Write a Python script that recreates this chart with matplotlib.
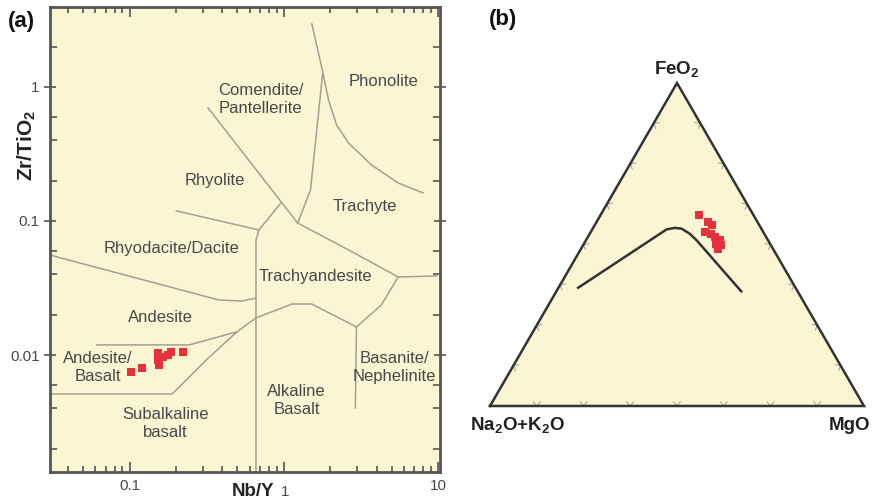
import numpy as np
import matplotlib.pyplot as plt
from matplotlib.ticker import LogLocator, NullFormatter

plt.rcParams['font.family'] = ['Liberation Sans', 'DejaVu Sans']
plt.rcParams['mathtext.fontset'] = 'custom'
plt.rcParams['mathtext.rm'] = 'Liberation Sans'
plt.rcParams['mathtext.bf'] = 'Liberation Sans:bold'

BG = '#faf6d4'
FIELD = '#a3a092'
TXT = '#484848'
RED = '#e8303a'

# ---- (a) Nb/Y vs Zr/TiO2 samples
nb_y = [0.1025, 0.121, 0.152, 0.152, 0.1545, 0.164, 0.177, 0.186, 0.221]
zr_ti = [0.0075, 0.0080, 0.0103, 0.0092, 0.0084, 0.0097, 0.0100, 0.0106, 0.0106]

# field boundaries (Nb/Y, Zr/TiO2)
bounds = [
    ([1.52, 1.79, 1.49, 1.23], [2.95, 1.29, 0.170, 0.0966]),
    ([1.79, 1.95, 2.20, 2.63, 3.70, 5.52, 8.0], [1.29, 0.80, 0.52, 0.382, 0.262, 0.192, 0.162]),
    ([0.323, 1.23, 2.63, 5.52, 9.8], [0.697, 0.0966, 0.0608, 0.0382, 0.0389]),
    ([0.201, 0.690, 0.956], [0.119, 0.0857, 0.136]),
    ([0.690, 0.66, 0.66], [0.0857, 0.0721, 0.00134]),
    ([0.0305, 0.381, 0.536, 0.66], [0.0557, 0.0257, 0.0253, 0.0266]),
    ([0.66, 1.13, 1.52, 2.96, 4.29, 5.52], [0.0189, 0.0240, 0.0240, 0.0162, 0.0236, 0.0382]),
    ([0.0612, 0.244, 0.497, 0.66], [0.0119, 0.0119, 0.0149, 0.0189]),
    ([0.0305, 0.189, 0.314, 0.497], [0.00512, 0.00512, 0.00918, 0.0149]),
    ([2.96, 2.91], [0.0162, 0.00402]),
]

fields = [
    ('Comendite/\nPantellerite', 0.711, 0.80),
    ('Phonolite', 4.42, 1.09),
    ('Rhyolite', 0.359, 0.202),
    ('Trachyte', 3.33, 0.129),
    ('Rhyodacite/Dacite', 0.187, 0.0618),
    ('Trachyandesite', 1.61, 0.0382),
    ('Andesite', 0.158, 0.0192),
    ('Andesite/\nBasalt', 0.0622, 0.0080),
    ('Basanite/\nNephelinite', 5.2, 0.0080),
    ('Alkaline\nBasalt', 1.21, 0.00454),
    ('Subalkaline\nbasalt', 0.171, 0.00306),
]

# ---- (b) ternary, percent (Na2O+K2O, FeO2, MgO)
alk = [14.7, 13.3, 12.7, 15.4, 14.3, 13.6, 12.9, 14.4, 13.3, 14.7]
feo = [59.0, 56.9, 55.9, 54.0, 53.3, 52.3, 51.3, 50.2, 49.7, 48.7]
mgo = [26.3, 29.8, 31.4, 30.6, 32.4, 34.1, 35.8, 35.4, 37.0, 36.6]

curve_alk = [58.5, 25.4, 23.0, 21.3, 19.9, 19.1, 15.0]
curve_feo = [36.4, 54.7, 55.2, 54.9, 53.3, 51.3, 35.2]
curve_mgo = [5.1, 19.9, 21.9, 23.8, 26.8, 29.6, 49.8]


def tern(a, f, m):
    a, f, m = np.asarray(a, float), np.asarray(f, float), np.asarray(m, float)
    s = a + f + m
    return (m + f / 2) / s, (f / s) * np.sqrt(3) / 2


fig = plt.figure(figsize=(8.77, 5.03), dpi=100)

ax = fig.add_axes([50 / 877, 31 / 503, 390 / 877, 465 / 503])
ax.set_facecolor(BG)
ax.set_xscale('log')
ax.set_yscale('log')
ax.set_xlim(0.0305, 10.3)
ax.set_ylim(0.00134, 3.95)

for xs, ys in bounds:
    ax.plot(xs, ys, color=FIELD, lw=1.1, zorder=2)
for name, x, y in fields:
    ax.text(x, y, name, ha='center', va='center', fontsize=12, color=TXT,
            linespacing=1.25, zorder=3)
ax.scatter(nb_y, zr_ti, marker='s', s=38, color=RED, lw=0, zorder=4)

for sp in ax.spines.values():
    sp.set_color('#555555')
    sp.set_linewidth(2)

ax.set_xticks([0.1, 1, 10], ['0.1', '', '10'])
ax.set_yticks([0.01, 0.1, 1], ['0.01', '0.1', '1'])
ax.xaxis.set_minor_locator(LogLocator(base=10, subs=np.arange(2, 10)))
ax.yaxis.set_minor_locator(LogLocator(base=10, subs=(2, 4, 6)))
ax.xaxis.set_minor_formatter(NullFormatter())
ax.yaxis.set_minor_formatter(NullFormatter())
ax.tick_params(which='both', top=True, right=True, color='#555555',
               labelsize=11, labelcolor=TXT, width=1.2)
ax.tick_params(axis='x', which='major', direction='in', length=7, pad=5)
ax.tick_params(axis='x', which='minor', direction='in', length=4)
ax.tick_params(axis='y', which='major', direction='inout', length=9, pad=3)
ax.tick_params(axis='y', which='minor', direction='in', length=5)
# the "1" sits lower, beside the axis title
fig.text(285 / 877, 1 - 492 / 503, '1', ha='center', va='center',
         fontsize=11, color=TXT)

fig.text(253 / 877, 1 - 492 / 503, 'Nb/Y', ha='center', va='center',
         fontsize=13.5, fontweight='bold', color='#222222')
fig.text(27 / 877, 1 - 145 / 503, r'Zr/TiO$_\mathbf{2}$', rotation=90,
         ha='center', va='center', fontsize=15, fontweight='bold', color='#222222')
fig.text(21 / 877, 1 - 22 / 503, '(a)', ha='center', va='center',
         fontsize=16, fontweight='bold', color='#111111')
fig.text(503 / 877, 1 - 20 / 503, '(b)', ha='center', va='center',
         fontsize=16, fontweight='bold', color='#111111')

# ---- (b) AFM-style ternary
bx = fig.add_axes([490 / 877, 97 / 503, 374 / 877, 323 / 503])
bx.set_xlim(0, 1)
bx.set_ylim(0, np.sqrt(3) / 2)
bx.axis('off')

corners = np.array([[0, 0], [1, 0], [0.5, np.sqrt(3) / 2], [0, 0]])
bx.fill(corners[:, 0], corners[:, 1], color=BG, zorder=0)
bx.plot(corners[:, 0], corners[:, 1], color='#333333', lw=1.8, zorder=3,
        clip_on=False, solid_joinstyle='miter')

# small chevron ticks every 1/8 along each edge
for p0, p1 in [(corners[0], corners[1]), (corners[1], corners[2]), (corners[2], corners[0])]:
    t = (p1 - p0) / np.linalg.norm(p1 - p0)
    n = np.array([-t[1], t[0]])  # inward normal (counter-clockwise order)
    for k in range(1, 8):
        p = p0 + (p1 - p0) * k / 8
        pts = np.array([p + 0.011 * n - 0.009 * t, p, p + 0.011 * n + 0.009 * t])
        bx.plot(pts[:, 0], pts[:, 1], color='#a8a89c', lw=0.8, zorder=2)

cx, cy = tern(curve_alk, curve_feo, curve_mgo)
bx.plot(cx, cy, color='#333333', lw=1.8, zorder=3, solid_capstyle='butt')

px, py = tern(alk, feo, mgo)
bx.scatter(px, py, marker='s', s=38, color=RED, lw=0, zorder=4)

bx.text(0.5, np.sqrt(3) / 2 + 0.036, r'FeO$_\mathbf{2}$', ha='center', va='center',
        fontsize=13.5, fontweight='bold', color='#222222', clip_on=False)
bx.text(27 / 374, -0.052, r'Na$_\mathbf{2}$O+K$_\mathbf{2}$O', ha='center', va='center',
        fontsize=13.5, fontweight='bold', color='#222222', clip_on=False)
bx.text(1 - 14 / 374, -0.052, 'MgO', ha='center', va='center',
        fontsize=13.5, fontweight='bold', color='#222222', clip_on=False)

fig.savefig('out.png', dpi=100)
